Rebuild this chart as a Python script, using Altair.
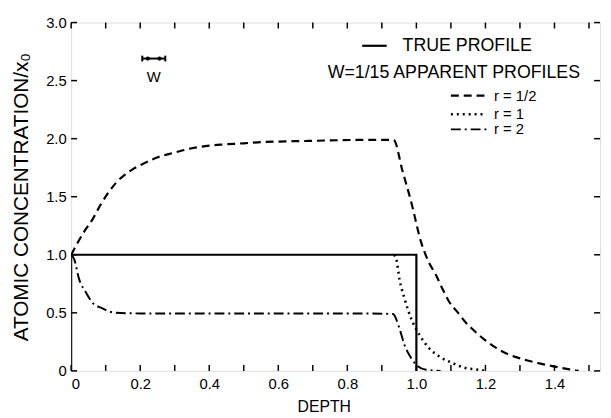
import altair as alt
import pandas as pd

# ---- data ----
true_depth = [0.0, 0.0, 1.0, 1.0]
true_conc = [0.0, 1.0, 1.0, 0.0]

half_depth = [0.0, 0.02, 0.04, 0.061, 0.085, 0.109, 0.13, 0.156, 0.18, 0.203, 0.251,
              0.30, 0.346, 0.40, 0.44, 0.50, 0.55, 0.60, 0.68, 0.75, 0.85, 0.934,
              0.96, 0.985, 1.013, 1.037, 1.056, 1.075, 1.094, 1.118, 1.142, 1.166,
              1.199, 1.23, 1.261, 1.309, 1.356, 1.404, 1.44, 1.47]
half_conc = [1.0, 1.11, 1.21, 1.30, 1.43, 1.54, 1.62, 1.69, 1.74, 1.775, 1.84,
             1.88, 1.915, 1.94, 1.95, 1.96, 1.97, 1.975, 1.98, 1.985, 1.99, 1.99,
             1.72, 1.455, 1.115, 0.93, 0.83, 0.71, 0.60, 0.51, 0.42, 0.35,
             0.265, 0.20, 0.15, 0.10, 0.065, 0.035, 0.015, 0.0]

one_depth = [0.935, 0.942, 0.951, 0.966, 0.985, 1.009, 1.037, 1.066, 1.104, 1.142, 1.18, 1.2]
one_conc = [1.0, 0.96, 0.79, 0.62, 0.45, 0.31, 0.195, 0.125, 0.068, 0.025, 0.01, 0.0]

two_depth = [0.0, 0.009, 0.023, 0.042, 0.061, 0.089, 0.128, 0.2, 0.4, 0.6, 0.8, 0.932,
             0.951, 0.966, 0.985, 1.004, 1.028, 1.07]
two_conc = [1.0, 0.96, 0.79, 0.68, 0.59, 0.54, 0.50, 0.495, 0.495, 0.495, 0.495, 0.49,
            0.365, 0.22, 0.11, 0.04, 0.01, 0.0]

x_labels = [0.0, 0.2, 0.4, 0.6, 0.8, 1.0, 1.2, 1.4]
y_labels = [0.0, 0.5, 1.0, 1.5, 2.0, 2.5, 3.0]
x_minor = [round(0.1 * i, 1) for i in range(16)]

# annotation anchors (data units)
legend_labels = ["r = 1/2", "r = 1", "r = 2"]
legend_y = [2.37, 2.21, 2.08]
head_labels = ["TRUE PROFILE", "W=1/15  APPARENT PROFILES"]
head_x = [0.96, 0.743]
head_y = [2.80, 2.565]

W = 1 / 15

X_DOM = [0, 1.532]
Y_DOM = [0, 3.0]
FONT = "Liberation Sans"

xs = alt.Scale(domain=X_DOM, nice=False, zero=False)
ys = alt.Scale(domain=Y_DOM, nice=False)


def series(depth, conc):
    return pd.DataFrame({"d": depth, "c": conc, "i": list(range(len(depth)))})


def line(df, dash, width, interp="linear"):
    kw = {"strokeWidth": width, "color": "black", "clip": True, "interpolate": interp}
    if dash:
        kw["strokeDash"] = dash
    return alt.Chart(df).mark_line(**kw, strokeCap="butt").encode(
        x=alt.X("d:Q", scale=xs,
                axis=alt.Axis(values=x_labels, title="DEPTH", ticks=False, domain=False,
                              grid=False, labelFontSize=15, labelPadding=6,
                              labelExpr="datum.value == 0 ? '0' : format(datum.value, '.1f')",
                              titleFontSize=16, titleFontWeight="normal",
                              titleX=256, titleY=28, titleBaseline="top")),
        y=alt.Y("c:Q", scale=ys,
                axis=alt.Axis(values=y_labels, title="ATOMIC CONCENTRATION/x₀",
                              ticks=False, domain=False, grid=False,
                              labelFontSize=15, labelPadding=5,
                              labelExpr="datum.value == 0 ? '0' : format(datum.value, '.1f')",
                              titleFontSize=21, titleFontWeight="normal", titlePadding=14)),
        order="i:Q",
    )


dash_half = [8, 5]
dash_one = [2, 4]
dash_two = [10, 4, 2, 4]

true_line = line(series(true_depth, true_conc), None, 2.2)
half_line = line(series(half_depth, half_conc), dash_half, 2.2, "monotone")
one_line = line(series(one_depth, one_conc), dash_one, 2.6, "monotone")
two_line = line(series(two_depth, two_conc), dash_two, 2.0, "monotone")

# inward ticks
xt = pd.DataFrame({"d": x_minor})
yt = pd.DataFrame({"c": y_labels})
bot_ticks = alt.Chart(xt).mark_rule(color="black", strokeWidth=1.5).encode(
    x=alt.X("d:Q", scale=xs), y=alt.value(353), y2=alt.value(347))
top_ticks = alt.Chart(xt).mark_rule(color="black", strokeWidth=1.5).encode(
    x=alt.X("d:Q", scale=xs), y=alt.value(0), y2=alt.value(6))
left_ticks = alt.Chart(yt).mark_rule(color="black", strokeWidth=1.5).encode(
    y=alt.Y("c:Q", scale=ys), x=alt.value(0), x2=alt.value(6))
right_ticks = alt.Chart(yt).mark_rule(color="black", strokeWidth=1.5).encode(
    y=alt.Y("c:Q", scale=ys), x=alt.value(536), x2=alt.value(530))

# W marker
w_df = pd.DataFrame({"x": [0.206], "x2": [0.206 + W], "y": [2.69]})
w_bar = alt.Chart(w_df).mark_rule(color="black", strokeWidth=2).encode(
    x=alt.X("x:Q", scale=xs), x2="x2:Q", y=alt.Y("y:Q", scale=ys))
w_ends = alt.Chart(pd.DataFrame({"x": [0.206, 0.206 + W], "y": [2.665, 2.665],
                                 "y2": [2.715, 2.715]})).mark_rule(
    color="black", strokeWidth=2).encode(
    x=alt.X("x:Q", scale=xs), y=alt.Y("y:Q", scale=ys), y2="y2:Q")
w_dots = alt.Chart(pd.DataFrame({"x": [0.222, 0.256], "y": [2.69, 2.69]})).mark_point(
    filled=True, color="black", size=18, opacity=1).encode(
    x=alt.X("x:Q", scale=xs), y=alt.Y("y:Q", scale=ys))
w_text = alt.Chart(pd.DataFrame({"x": [0.239], "y": [2.53], "t": ["W"]})).mark_text(
    font=FONT, fontSize=15, color="black", baseline="middle", align="center").encode(
    x=alt.X("x:Q", scale=xs), y=alt.Y("y:Q", scale=ys), text="t:N")

# legend
true_sample = alt.Chart(pd.DataFrame({"x": [0.843], "x2": [0.914], "y": [2.80]})).mark_rule(
    color="black", strokeWidth=2.2).encode(
    x=alt.X("x:Q", scale=xs), x2="x2:Q", y=alt.Y("y:Q", scale=ys))
head_text = alt.Chart(pd.DataFrame({"x": head_x, "y": head_y, "t": head_labels})).mark_text(
    font=FONT, fontSize=18, color="black", baseline="middle", align="left").encode(
    x=alt.X("x:Q", scale=xs), y=alt.Y("y:Q", scale=ys), text="t:N")


def sample(y, dash, width):
    return alt.Chart(pd.DataFrame({"x": [1.10], "x2": [1.203], "y": [y]})).mark_rule(
        color="black", strokeWidth=width, strokeDash=dash, strokeCap="butt").encode(
        x=alt.X("x:Q", scale=xs), x2="x2:Q", y=alt.Y("y:Q", scale=ys))


samples = (sample(legend_y[0], dash_half, 2.2)
           + sample(legend_y[1], dash_one, 2.6)
           + sample(legend_y[2], dash_two, 2.0))
legend_text = alt.Chart(pd.DataFrame({"x": [1.225] * 3, "y": legend_y,
                                      "label": legend_labels})).mark_text(
    font=FONT, fontSize=15, color="black", baseline="middle", align="left").encode(
    x=alt.X("x:Q", scale=xs), y=alt.Y("y:Q", scale=ys), text="label:N")

chart = alt.layer(
    true_line, half_line, one_line, two_line,
    bot_ticks, top_ticks, left_ticks, right_ticks,
    w_bar, w_ends, w_dots, w_text,
    true_sample, head_text, samples, legend_text,
).properties(
    width=536, height=353,
    autosize=alt.AutoSizeParams(type="none"),
    padding={"left": 64, "top": 12, "right": 3, "bottom": 45},
).configure_view(
    stroke="black", strokeWidth=2
).configure_axis(
    labelFont=FONT, titleFont=FONT, labelColor="black", titleColor="black"
).configure(background="white")

chart.save("out.html", embed_options={"renderer": "svg", "actions": False})
